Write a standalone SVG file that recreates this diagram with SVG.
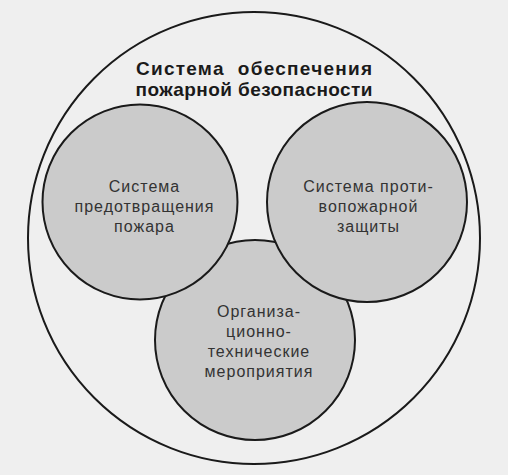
<svg xmlns="http://www.w3.org/2000/svg" width="508" height="475" viewBox="0 0 508 475">
  <style>
    .bg { fill: #efefef; }
    .outer { fill: none; stroke: #1a1a1a; stroke-width: 2; }
    .node { fill: #cbcbcb; stroke: #1a1a1a; stroke-width: 2; }
    .title { font-family: "Liberation Sans", Arial, sans-serif; font-weight: bold; font-size: 19px; fill: #1a1a1a; text-anchor: middle; white-space: pre; }
    .label { font-family: "Liberation Sans", Arial, sans-serif; font-size: 16px; fill: #333333; text-anchor: middle; letter-spacing: 1px; }
  </style>
  <rect class="bg" x="0" y="0" width="508" height="475"/>
  <g id="system">
    <circle class="outer" cx="254" cy="238" r="226"/>
    <text class="title" x="254" y="75" textLength="236" lengthAdjust="spacing">Система  обеспечения</text>
    <text class="title" x="254" y="96" textLength="237" lengthAdjust="spacing">пожарной безопасности</text>
  </g>
  <g id="connectors"></g>
  <g id="org-tech">
    <circle class="node" cx="255" cy="340" r="100"/>
    <text class="label" x="259" y="317">Организа-</text>
    <text class="label" x="259" y="337">ционно-</text>
    <text class="label" x="259" y="357">технические</text>
    <text class="label" x="259" y="377">мероприятия</text>
  </g>
  <g id="prevention">
    <circle class="node" cx="140" cy="202" r="97.5"/>
    <text class="label" x="144.5" y="192">Система</text>
    <text class="label" x="144.5" y="212">предотвращения</text>
    <text class="label" x="144.5" y="232">пожара</text>
  </g>
  <g id="protection">
    <circle class="node" cx="367" cy="202" r="100"/>
    <text class="label" x="368.5" y="192">Система проти-</text>
    <text class="label" x="368.5" y="212">вопожарной</text>
    <text class="label" x="368.5" y="232">защиты</text>
  </g>
</svg>
